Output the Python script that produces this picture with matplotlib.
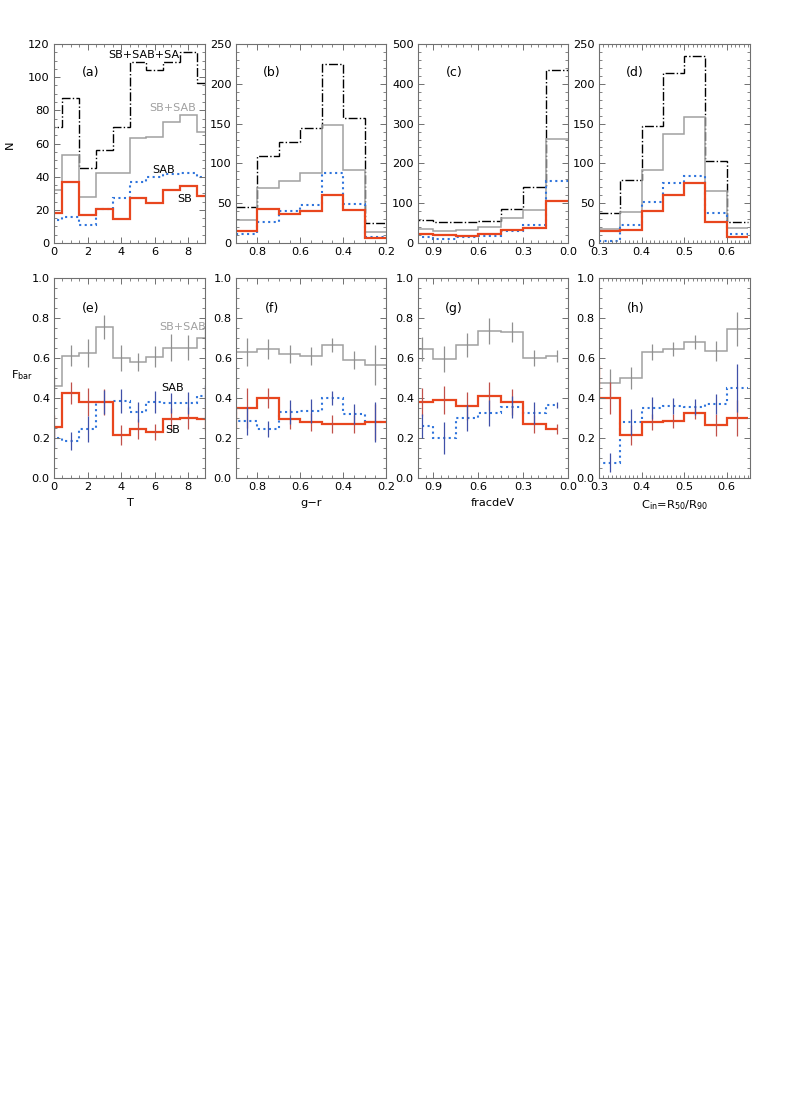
import numpy as np
import matplotlib
matplotlib.use("Agg")
import matplotlib.pyplot as plt
from matplotlib.ticker import MultipleLocator, FixedLocator
from matplotlib.transforms import ScaledTranslation

plt.rcParams['font.family'] = ['DejaVu Sans']
plt.rcParams['font.size'] = 8.2

# ---------------- data: top row (counts N) ----------------
edges_T = [-0.5, 0.5, 1.5, 2.5, 3.5, 4.5, 5.5, 6.5, 7.5, 8.5, 9.5]
a_all = [70.2, 87.3, 45.2, 56.2, 70.2, 109.0, 104.4, 109.0, 115.4, 96.7]
a_sbsab = [32.1, 53.2, 27.7, 42.1, 42.1, 63.2, 64.2, 73.2, 77.1, 67.0]
a_sab = [13.6, 15.7, 10.6, 20.7, 27.1, 36.5, 40.1, 41.7, 42.5, 39.7]
a_sb = [18.0, 36.9, 16.9, 20.7, 14.6, 26.9, 23.9, 31.9, 34.1, 28.1]

edges_gr = [0.9, 0.8, 0.7, 0.6, 0.5, 0.4, 0.3, 0.2]
b_all = [45.6, 108.7, 126.7, 145.0, 225.0, 157.6, 24.7]
b_sbsab = [28.4, 69.0, 77.3, 87.8, 148.0, 91.6, 13.8]
b_sab = [11.7, 26.3, 40.6, 48.0, 87.8, 49.3, 7.5]
b_sb = [15.5, 42.6, 36.8, 39.7, 59.8, 41.8, 6.3]

edges_fd = [1.05, 0.9, 0.75, 0.6, 0.45, 0.3, 0.15, 0.0]
c_all = [56.9, 52.7, 51.8, 54.3, 86.0, 140.5, 434.8]
c_sbsab = [36.0, 30.0, 33.4, 40.0, 62.7, 83.6, 262.5]
c_sab = [15.0, 10.0, 15.0, 16.7, 29.0, 44.3, 156.4]
c_sb = [21.7, 19.2, 17.6, 22.6, 31.8, 37.6, 106.2]

edges_ci = [0.3, 0.35, 0.4, 0.45, 0.5, 0.55, 0.6, 0.65]
d_all = [38.0, 78.6, 147.6, 213.2, 235.4, 102.4, 26.3]
d_sbsab = [17.6, 38.5, 91.6, 136.7, 158.4, 64.8, 18.8]
d_sab = [2.0, 22.0, 51.4, 76.0, 83.6, 37.6, 11.7]
d_sb = [14.6, 16.7, 40.6, 60.6, 76.0, 26.8, 7.5]

# ---------------- data: bottom row (bar fractions) ----------------
e_x = [0, 1, 2, 3, 4, 5, 6, 7, 8, 9]
e_edges = [-0.5, 0.5, 1.5, 2.5, 3.5, 4.5, 5.5, 6.5, 7.5, 8.5, 9.5]
e_sbsab = [0.46, 0.612, 0.624, 0.754, 0.602, 0.582, 0.607, 0.652, 0.652, 0.700]
e_sbsab_err = [0.05, 0.053, 0.07, 0.06, 0.065, 0.045, 0.054, 0.068, 0.063, 0.06]
e_sb = [0.256, 0.423, 0.378, 0.378, 0.214, 0.244, 0.231, 0.294, 0.298, 0.293]
e_sb_err = [0.06, 0.055, 0.07, 0.065, 0.05, 0.05, 0.04, 0.055, 0.055, 0.055]
e_sab = [0.202, 0.184, 0.244, 0.378, 0.386, 0.331, 0.378, 0.373, 0.373, 0.41]
e_sab_err = [0.05, 0.045, 0.065, 0.06, 0.06, 0.05, 0.055, 0.05, 0.055, 0.055]

f_x = [0.85, 0.75, 0.65, 0.55, 0.45, 0.35, 0.25]
f_edges = [1.0, 0.9, 0.8, 0.7, 0.6, 0.5, 0.4, 0.3, 0.2]
f_sbsab = [0.632, 0.632, 0.645, 0.619, 0.610, 0.666, 0.590, 0.565]
f_sbsab_err = [0.07, 0.05, 0.045, 0.045, 0.035, 0.045, 0.1]
f_sb = [0.255, 0.348, 0.398, 0.293, 0.278, 0.269, 0.269, 0.281]
f_sb_err = [0.1, 0.05, 0.05, 0.045, 0.045, 0.045, 0.09]
f_sab = [0.50, 0.286, 0.247, 0.328, 0.334, 0.398, 0.319, 0.281]
f_sab_err = [0.07, 0.04, 0.06, 0.06, 0.035, 0.05, 0.1]

g_x = [0.975, 0.825, 0.675, 0.525, 0.375, 0.225, 0.075]
g_edges = [1.05, 0.9, 0.75, 0.6, 0.45, 0.3, 0.15, 0.075]
g_sbsab = [0.644, 0.595, 0.666, 0.737, 0.732, 0.599, 0.61]
g_sbsab_err = [0.06, 0.065, 0.06, 0.065, 0.05, 0.04, 0.03]
g_sb = [0.381, 0.39, 0.36, 0.411, 0.378, 0.269, 0.244]
g_sb_err = [0.07, 0.07, 0.07, 0.07, 0.065, 0.045, 0.025]
g_sab = [0.26, 0.202, 0.30, 0.323, 0.356, 0.326, 0.365]
g_sab_err = [0.06, 0.08, 0.065, 0.065, 0.055, 0.055, 0.015]

h_x = [0.325, 0.375, 0.425, 0.475, 0.525, 0.575, 0.625]
h_edges = [0.25, 0.3, 0.35, 0.4, 0.45, 0.5, 0.55, 0.6, 0.65]
h_sbsab = [0.477, 0.477, 0.498, 0.629, 0.645, 0.679, 0.635, 0.744]
h_sbsab_err = [0.07, 0.055, 0.04, 0.035, 0.035, 0.05, 0.085]
h_sb = [0.557, 0.398, 0.217, 0.278, 0.286, 0.326, 0.264, 0.298]
h_sb_err = [0.08, 0.05, 0.04, 0.035, 0.03, 0.055, 0.09]
h_sab = [0.226, 0.077, 0.278, 0.351, 0.361, 0.353, 0.37, 0.452]
h_sab_err = [0.046, 0.065, 0.055, 0.04, 0.04, 0.05, 0.12]

# ---------------- styles ----------------
RED = '#e8461e'
BLUE = '#2f74dc'
GRAY = '#a0a0a0'
RED_ERR = '#c0504a'
BLUE_ERR = '#4050a8'
GRAY_ERR = '#909090'
FRAME = '#707070'

W, H = 789, 1113
fig = plt.figure(figsize=(W / 100, H / 100), dpi=100)

lefts = [54, 236, 418, 599]
widths = [151, 150, 150, 151]


def make_ax(l, w, top, bot):
    return fig.add_axes([l / W, 1 - bot / H, w / W, (bot - top) / H])


def style(ax, xmaj, xmin, ymaj, ymin):
    ax.xaxis.set_major_locator(FixedLocator(xmaj))
    ax.xaxis.set_minor_locator(MultipleLocator(xmin))
    ax.yaxis.set_major_locator(MultipleLocator(ymaj))
    ax.yaxis.set_minor_locator(MultipleLocator(ymin))
    ax.tick_params(which='both', direction='in', top=True, right=True,
                   color=FRAME, labelsize=8.2, pad=3)
    ax.tick_params(which='major', length=4, width=0.7)
    ax.tick_params(which='minor', length=2, width=0.6)
    for s in ax.spines.values():
        s.set_color(FRAME)
        s.set_linewidth(0.8)


top_specs = [
    (edges_T, a_all, a_sbsab, a_sab, a_sb, (0, 9), [0, 2, 4, 6, 8], 0.5, 120, 20, 5, '(a)'),
    (edges_gr, b_all, b_sbsab, b_sab, b_sb, (0.9, 0.2), [0.8, 0.6, 0.4, 0.2], 0.05, 250, 50, 10, '(b)'),
    (edges_fd, c_all, c_sbsab, c_sab, c_sb, (1.0, 0.0), [0.9, 0.6, 0.3, 0.0], 0.05, 500, 100, 20, '(c)'),
    (edges_ci, d_all, d_sbsab, d_sab, d_sb, (0.3, 0.655), [0.3, 0.4, 0.5, 0.6], 0.01, 250, 50, 10, '(d)'),
]

axes_top = []
for i, (ed, al, ss, sa, sb, xl, xt, xmn, ym, ymj, ymn, tag) in enumerate(top_specs):
    ax = make_ax(lefts[i], widths[i], 44, 243)
    ax.stairs(al, ed, baseline=None, color='black', lw=1.0, linestyle='-.')
    ax.stairs(ss, ed, baseline=None, color=GRAY, lw=1.1)
    ax.stairs(sa, ed, baseline=None, color=BLUE, lw=1.5, linestyle=':')
    ax.stairs(sb, ed, baseline=None, color=RED, lw=1.6)
    ax.set_xlim(*xl)
    ax.set_ylim(0, ym)
    style(ax, xt, xmn, ymj, ymn)
    if i == 0:
        ax.set_xticklabels(['0', '2', '4', '6', '8'])
    ax.text(0.24, 0.855, tag, transform=ax.transAxes, ha='center', va='center', fontsize=9)
    axes_top.append(ax)

ax = axes_top[0]
ax.text(0.596, 0.945, 'SB+SAB+SA', transform=ax.transAxes, ha='center', va='center', fontsize=8)
ax.text(0.785, 0.678, 'SB+SAB', transform=ax.transAxes, ha='center', va='center', fontsize=8, color=GRAY)
ax.text(0.728, 0.367, 'SAB', transform=ax.transAxes, ha='center', va='center', fontsize=8)
ax.text(0.864, 0.221, 'SB', transform=ax.transAxes, ha='center', va='center', fontsize=8)

bot_specs = [
    (e_x, e_edges, e_sbsab, e_sbsab_err, e_sb, e_sb_err, e_sab, e_sab_err, (0, 9), [0, 2, 4, 6, 8], 0.5, '(e)', 'T'),
    (f_x, f_edges, f_sbsab, f_sbsab_err, f_sb, f_sb_err, f_sab, f_sab_err, (0.9, 0.2), [0.8, 0.6, 0.4, 0.2], 0.05, '(f)', 'g\u2212r'),
    (g_x, g_edges, g_sbsab, g_sbsab_err, g_sb, g_sb_err, g_sab, g_sab_err, (1.0, 0.0), [0.9, 0.6, 0.3, 0.0], 0.05, '(g)', 'fracdeV'),
    (h_x, h_edges, h_sbsab, h_sbsab_err, h_sb, h_sb_err, h_sab, h_sab_err, (0.3, 0.655), [0.3, 0.4, 0.5, 0.6], 0.01, '(h)',
     r'C$_{\rm in}$=R$_{50}$/R$_{90}$'),
]

axes_bot = []
for i, (xc, ed, gs, ge, rs, re, bs, be, xl, xt, xmn, tag, xlab) in enumerate(bot_specs):
    ax = make_ax(lefts[i], widths[i], 278, 478)
    ax.stairs(gs, ed, baseline=None, color=GRAY, lw=1.1)
    ax.stairs(bs, ed, baseline=None, color=BLUE, lw=1.5, linestyle=':')
    ax.stairs(rs, ed, baseline=None, color=RED, lw=1.6)
    n = len(xc)
    ax.errorbar(xc, gs[-n:], yerr=ge, fmt='none', ecolor=GRAY_ERR, elinewidth=0.9)
    ax.errorbar(xc, rs[-n:], yerr=re, fmt='none', ecolor=RED_ERR, elinewidth=0.9)
    ax.errorbar(xc, bs[-n:], yerr=be, fmt='none', ecolor=BLUE_ERR, elinewidth=0.9)
    ax.set_xlim(*xl)
    ax.set_ylim(0, 1.0)
    style(ax, xt, xmn, 0.2, 0.05)
    if i == 0:
        ax.set_xticklabels(['0', '2', '4', '6', '8'])
    ax.text(0.24, 0.845, tag, transform=ax.transAxes, ha='center', va='center', fontsize=9)
    ax.set_xlabel(xlab, fontsize=8.2, labelpad=4)
    axes_bot.append(ax)

ax = axes_bot[0]
ax.text(0.851, 0.753, 'SB+SAB', transform=ax.transAxes, ha='center', va='center', fontsize=8, color=GRAY, clip_on=False)
ax.text(0.785, 0.448, 'SAB', transform=ax.transAxes, ha='center', va='center', fontsize=8)
ax.text(0.785, 0.24, 'SB', transform=ax.transAxes, ha='center', va='center', fontsize=8)

fig.text(10 / W, 1 - 145 / H, 'N', rotation=90, ha='center', va='center', fontsize=8.2)
fig.text(22 / W, 1 - 375 / H, r'F$_{\rm bar}$', ha='center', va='center', fontsize=8.2)

# nudge end y tick labels inward, as in the reference
fig.canvas.draw()
for ax in axes_top + axes_bot:
    labs = ax.get_yticklabels()
    if len(labs) >= 2:
        labs[0].set_transform(labs[0].get_transform() + ScaledTranslation(0, 3.5 / 100, fig.dpi_scale_trans))
        labs[-1].set_transform(labs[-1].get_transform() + ScaledTranslation(0, -3.5 / 100, fig.dpi_scale_trans))

fig.savefig('out.png', dpi=100)
